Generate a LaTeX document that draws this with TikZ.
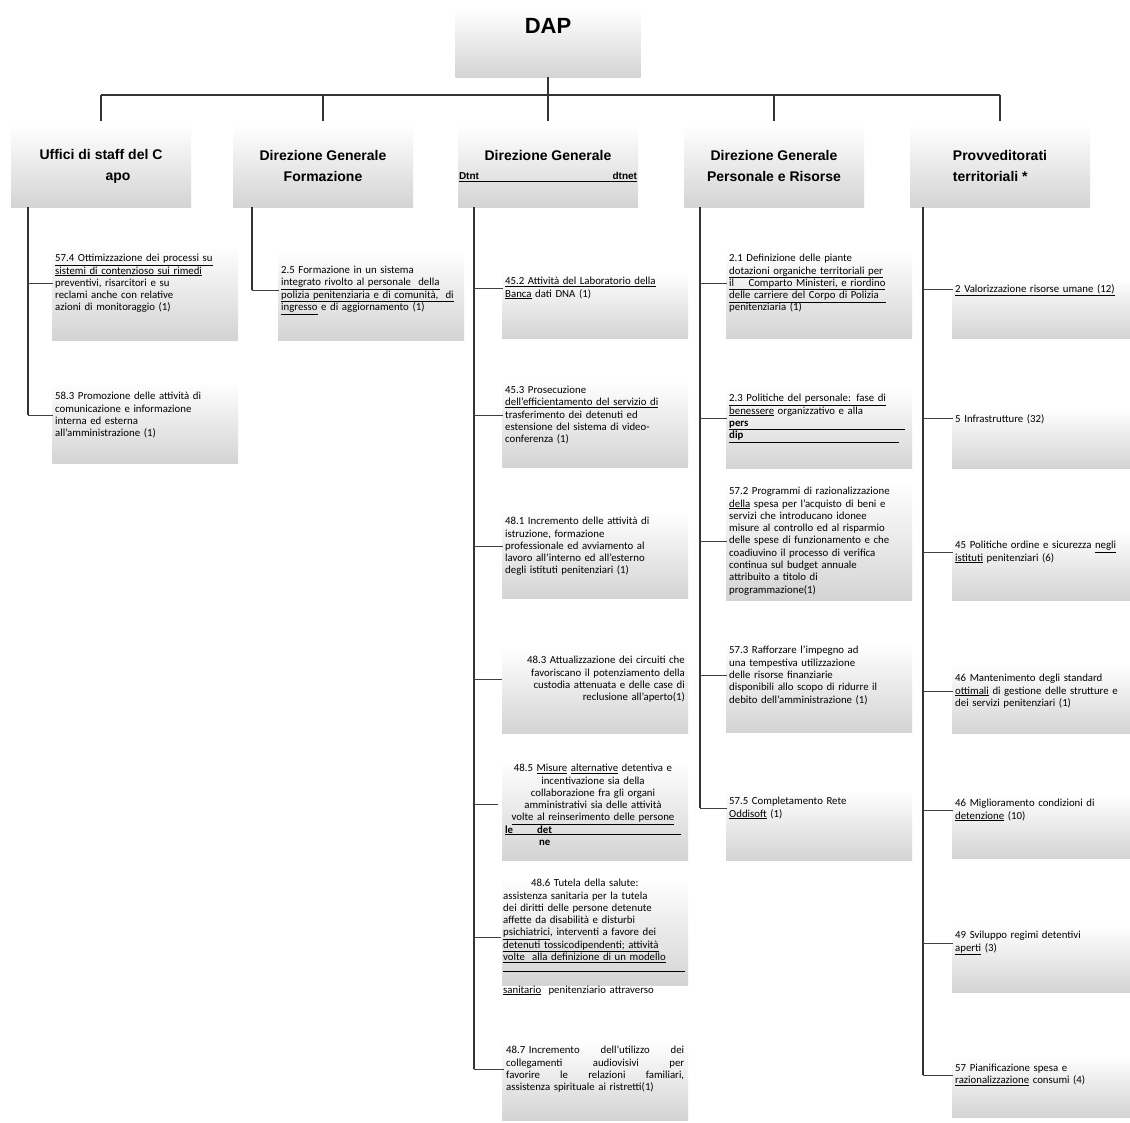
\documentclass[tikz,border=0pt]{standalone}
\usepackage{fontspec}
\setmainfont{Carlito}
\newfontfamily\hdrfont{Liberation Sans}
\begin{document}
\begin{tikzpicture}[x=1pt,y=-1pt,
  ln/.style={draw=black!80, line width=1.3pt},
  busln/.style={draw=black!80, line width=1.9pt},
  br/.style={draw=black!75, line width=0.9pt},
  bx/.style={top color=white, middle color=white, bottom color=black!17},
  lvtwo/.style={bx, minimum width=180pt, minimum height=82pt, inner sep=0pt,
     font=\hdrfont\bfseries\fontsize{14}{21}\selectfont},
  ct/.style={font=\fontsize{10.8}{12.3}\selectfont, align=left, inner sep=0pt,
     anchor=north west, text width=192pt},
  ctr/.style={font=\fontsize{10.8}{12.3}\selectfont, inner sep=0pt, text width=186pt}
]
\useasboundingbox (0,0) rectangle (1130,1122);
\fill[white] (0,0) rectangle (1130,1122);

% ---- top box
\node[bx, minimum width=185pt, minimum height=68pt, inner sep=0pt] (dapbox) at (548,43) {};
\node[font=\hdrfont\bfseries\fontsize{22}{24}\selectfont, inner sep=0pt] (dap) at (548,26) {DAP};

% ---- level 2
\node[lvtwo, align=left] (h1) at (101,166) {Uffici di staff del C\\\hspace*{66pt}apo};
\node[lvtwo, align=center] (h2) at (323,166) {Direzione Generale\\Formazione};
\node[lvtwo, align=center] (h3) at (548,166) {Direzione Generale\\[-2pt]{\fontsize{10}{11}\selectfont\underline{\makebox[178pt]{Dtnt\hfill dtnet}}}};
\node[lvtwo, align=center] (h4) at (774,166) {Direzione Generale\\Personale e Risorse};
\node[lvtwo, align=left] (h5) at (1000,166) {Provveditorati\\territoriali *};

\coordinate (busY) at (0,95);
\draw[ln] (dapbox.south) -- (dapbox.south |- busY);
\draw[busln] (h1.north |- busY) -- (h5.north |- busY);
\foreach \h in {h1,h2,h3,h4,h5} { \draw[ln] (\h.north |- busY) -- ([yshift=4pt]\h.north); }

% ---- child boxes (backgrounds)
\foreach \x/\a/\b in {52/245/340, 52/382/463,
                      278/250/340,
                      502/272/338, 502/380/467, 502/512/598, 502/648/733, 502/760/860, 502/878/985, 502/1040/1120,
                      726/250/338, 726/388/468, 726/482/600, 726/642/732, 726/790/860}
  { \shade[bx] (\x,\a) rectangle ++(186,\b-\a); }
\foreach \a/\b in {278/338, 408/468, 530/600, 665/733, 795/858, 925/992, 1055/1117}
  { \shade[bx] (952,\a) rectangle (1135,\b); }

% ---- column 1
\node[ct] (t574) at (55,254) {\underline{57.4 Ottimizzazione dei processi su}\\
\underline{sistemi di contenzioso sui rimedi}\\
preventivi, risarcitori e su\\
reclami anche con relative\\
azioni di monitoraggio (1)};
\node[ct] (t583) at (55,392) {58.3 Promozione delle attività di\\
comunicazione e informazione\\
interna ed esterna\\
all'amministrazione (1)};

% ---- column 2
\node[ct] (t25) at (281,266) {2.5 Formazione in un sistema\\
\underline{integrato rivolto al personale \ della}\\
\underline{polizia penitenziaria e di comunità, \ di}\\
\underline{ingresso} e di aggiornamento (1)};

% ---- column 3
\node[ct] (t452) at (505,277) {\underline{45.2 Attività del Laboratorio della}\\
\underline{Banca} dati DNA (1)};
\node[ct] (t453) at (505,386) {45.3 Prosecuzione\\
\underline{dell'efficientamento del servizio di}\\
trasferimento dei detenuti ed\\
estensione del sistema di video-\\
conferenza (1)};
\node[ct] (t481) at (505,517) {48.1 Incremento delle attività di\\
istruzione, formazione\\
professionale ed avviamento al\\
lavoro all'interno ed all'esterno\\
degli istituti penitenziari (1)};
\node[ctr, align=right, anchor=north east] (t483) at (685,656) {48.3 Attualizzazione dei circuiti che\\
favoriscano il potenziamento della\\
custodia attenuata e delle case di\\
reclusione all'aperto(1)};
\node[ctr, align=center, anchor=north] (t485) at (593,764) {48.5 \underline{Misure} \underline{alternative} detentiva e\\
incentivazione sia della\\
collaborazione fra gli organi\\
amministrativi sia delle attività\\
\underline{volte al reinserimento delle persone}\\
\underline{\makebox[176pt][l]{\textbf{le}\hspace{24pt}\textbf{det}}}\\
\makebox[176pt][l]{\hspace{34pt}\textbf{ne}}};
\node[ct] (t486) at (503,879) {\hspace*{28pt}48.6 Tutela della salute:\\
assistenza sanitaria per la tutela\\
dei diritti delle persone detenute\\
affette da disabilità e disturbi\\
\underline{psichiatrici}, interventi a favore dei\\
\underline{detenuti tossicodipendenti; attività}\\
\underline{volte \ alla definizione di un modello}\\[8pt]
\rlap{\rule[9pt]{182pt}{1pt}}\underline{sanitario} \ penitenziario attraverso};
\node[ct, text width=178pt] (t487) at (506,1046) {48.7 Incremento\hfill dell'utilizzo\hfill dei\\
collegamenti\hfill audiovisivi\hfill per\\
favorire\hfill le\hfill relazioni\hfill familiari,\\
assistenza spirituale ai ristretti(1)};

% ---- column 4
\node[ct] (t21) at (729,254) {2.1 Definizione delle piante\\
\underline{dotazioni organiche territoriali per}\\
\underline{il \quad Comparto Ministeri, e riordino}\\
\underline{delle carriere del Corpo di Polizia \ }\\
penitenziaria (1)};
\node[ct] (t23) at (729,394) {\underline{2.3 Politiche del personale: fase di}\\
\underline{benessere} organizzativo e alla\\
\underline{\makebox[176pt][l]{\textbf{pers}}}\\
\underline{\makebox[170pt][l]{\textbf{dip}}}};
\node[ct] (t572) at (729,487) {57.2 Programmi di razionalizzazione\\
\underline{della} spesa per l'acquisto di beni e\\
servizi che introducano idonee\\
misure al controllo ed al risparmio\\
delle spese di funzionamento e che\\
coadiuvino il processo di verifica\\
continua sul budget annuale\\
attribuito a titolo di\\
programmazione(1)};
\node[ct] (t573) at (729,646) {57.3 Rafforzare l'impegno ad\\
una tempestiva utilizzazione\\
delle risorse finanziarie\\
disponibili allo scopo di ridurre il\\
debito dell'amministrazione (1)};
\node[ct] (t575) at (729,797) {57.5 Completamento Rete\\
\underline{Oddisoft} (1)};

% ---- column 5
\node[ct] (p2) at (955,284) {\underline{2 Valorizzazione risorse umane (12)}};
\node[ct] (p5) at (955,414) {5 Infrastrutture (32)};
\node[ct] (p45) at (955,541) {45 Politiche ordine e sicurezza \underline{negli}\\
\underline{istituti} penitenziari (6)};
\node[ct] (p46) at (955,674) {46 Mantenimento degli standard\\
\underline{ottimali} di gestione delle strutture e\\
dei servizi penitenziari (1)};
\node[ct] (p46b) at (955,799) {46 Miglioramento condizioni di\\
\underline{detenzione} (10)};
\node[ct] (p49) at (955,931) {49 Sviluppo regimi detentivi\\
\underline{aperti} (3)};
\node[ct] (p57) at (955,1064) {57 Pianificazione spesa e\\
\underline{razionalizzazione} consumi (4)};

% ---- vertical spines
\coordinate (v1) at (28,207);
\coordinate (v2) at (252,207);
\coordinate (v3) at (474,207);
\coordinate (v4) at (700,207);
\coordinate (v5) at (923,207);
\draw[ln] (v1) -- (v1 |- t583.west);
\draw[ln] (v2) -- (v2 |- t25.west);
\draw[ln] (v3) -- (v3 |- t487.west);
\draw[ln] (v4) -- (v4 |- t575.west);
\draw[ln] (v5) -- (v5 |- p57.west);

% ---- branches
\foreach \v/\t in {v1/t574, v1/t583, v2/t25,
   v3/t452, v3/t453, v3/t481, v3/t485, v3/t486, v3/t487,
   v4/t21, v4/t23, v4/t572, v4/t573, v4/t575,
   v5/p2, v5/p5, v5/p45, v5/p46, v5/p46b, v5/p49, v5/p57}
  { \draw[br] (\v |- \t.west) -- ([xshift=-2pt]\t.west); }
\draw[br] (v3 |- t483.west) -- ([xshift=28pt]v3 |- t483.west);
\end{tikzpicture}
\end{document}
